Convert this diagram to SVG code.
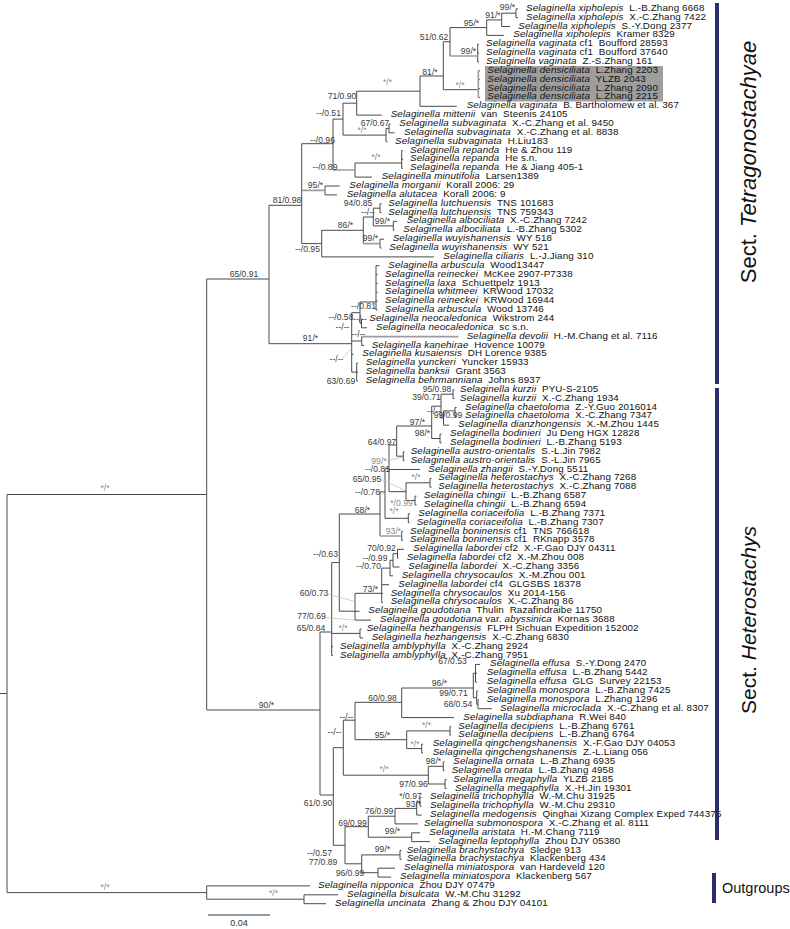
<svg xmlns="http://www.w3.org/2000/svg" width="790" height="929" viewBox="0 0 790 929">
<style>
.t{font-family:"Liberation Sans",Arial,sans-serif;font-size:9.8px;letter-spacing:0.15px;fill:#111}
.i{font-style:italic}
.s{font-family:"Liberation Sans",Arial,sans-serif;font-size:8.6px;fill:#3a3a3a;text-anchor:middle}
.g{fill:#8a8a8a}
.br{fill:none;stroke:#4a4a4a;stroke-width:1}
.bg{fill:none;stroke:#9d9d9d;stroke-width:1.6}
.ld{fill:none;stroke:#bbb;stroke-width:0.7}
.bar{fill:#2b2c6b}
.sec{font-family:"Liberation Sans",Arial,sans-serif;fill:#111}
</style>
<rect width="790" height="929" fill="#fff"/>
<rect x="485" y="66" width="178" height="35.5" fill="#9e9e9e"/>
<g id="connectors">
<path class="br" d="M0 693.5H7 M7 494.5V892.6 M7 494.5H206.7 M7 892.6H206.7
M206.7 279V710 M206.7 279H269 M206.7 710H320
M269 205.3V343.7 M269 205.3H301.7 M269 343.7H351.7
M301.7 143.7V243.6 M301.7 143.7H333 M301.7 243.6H321.7
M333 119.1V170 M333 119.1H343
M343 103.2V135.1 M343 103.2H356.7 M343 135.1H386
M356.7 91.2V115.1 M356.7 91.2H420 M356.7 115.1H381.7
M420 76V106.3 M420 76H443.3 M420 106.3H456.7
M443.3 41.7V89.7 M443.3 41.7H450 M443.3 89.7H478.3
M450 27.6V56 M450 27.6H486.7
M486.7 19.9V35.4 M486.7 19.9H501.7 M486.7 35.4H504
M501.7 13.2V26.5 M501.7 13.2H516 M501.7 26.5H510
M516 8.8V17.7 M516 8.8H518 M516 17.7H518
M477.7 44.2V62 M477.7 44.2H479 M477.7 53.1H479 M477.7 62H479
M478.3 70.8H480 M478.3 79.7H480 M478.3 88.5H480 M478.3 97.4H480
M386 128.4V141.7 M386 128.4H389 M386 141.7H387.5
M389 124V132.8 M389 124H390.5 M389 132.8H394.5
M355 163V177.1 M355 163H401.7 M355 177.1H372
M401.7 150.6V168.3 M401.7 150.6H403 M401.7 159.4H403 M401.7 168.3H403
M325 186V194.9 M325 186H339.5 M325 194.9H337
M321.7 230.3V256.9 M321.7 230.3H363.3 M321.7 256.9H434
M363.3 217V243.6 M363.3 217H373.3
M373.3 208.2V225.9 M373.3 208.2H380 M373.3 225.9H393.3
M380 203.7V212.6 M380 203.7H381.5 M380 212.6H381.5
M393.3 221.4V230.3 M393.3 221.4H397 M393.3 230.3H394.5
M380 239.2V248 M380 239.2H384 M380 248H381.5
M351.7 312.7V372.1 M351.7 312.7H360 M351.7 341H361.7 M351.7 354.3H353.5 M351.7 372.1H356.7
M360 302V323.3 M360 302H376 M360 323.3H361.5
M376 265.7V310 M376 265.7H379.5 M376 274.6H377.5 M376 283.5H377.5 M376 292.3H377.5 M376 301.2H377.5 M376 310H377.5
M361.5 318.9V327.8 M361.5 318.9H362.5 M361.5 327.8H367
M361.7 336.6V345.5 M361.7 345.5H364
M356.7 363.2V380.9 M356.7 363.2H358 M356.7 372.1H358 M356.7 380.9H358
M320 632V795 M320 632H331.7 M320 795H333.3
M331.7 562.6V655.6 M331.7 562.6H339.3 M331.7 633.4H360 M331.7 646.7H333 M331.7 655.6H333
M360 629V637.9 M360 629H361.5 M360 637.9H363
M339.3 514V611.2 M339.3 514H380 M339.3 611.2H355
M380 491.9V536 M380 491.9H385
M385 468.4V518.3 M385 468.4H389 M385 518.3H408.3
M389 445V491.7 M389 445H396.7 M389 469.5H420 M389 491.7H406
M396.7 426V456.2 M396.7 426H431.7 M396.7 456.2H403.3
M431.7 406.2V438.5 M431.7 406.2H441 M431.7 438.5H440
M441 394.2V418.1 M441 394.2H453 M441 418.1H443.5
M453 389.8V398.6 M453 389.8H454.5 M453 398.6H454.5
M443.5 410.9V425.2 M443.5 410.9H455 M443.5 425.2H449
M455 407.5V416.4 M455 407.5H456.5 M455 416.4H456.5
M440 434.1V442.9 M440 434.1H441.5 M440 442.9H441.5
M403.3 451.8V460.7 M403.3 451.8H404.5 M403.3 460.7H404.5
M406 482.8V500.5 M406 482.8H430 M406 500.5H415
M430 478.4V487.2 M430 478.4H431.5 M430 487.2H431.5
M415 496.1V505 M415 496.1H416.5 M415 505H416.5
M408.3 513.8V522.7 M408.3 513.8H410 M408.3 522.7H409.5
M401.7 531.5V540.4 M401.7 531.5H403 M401.7 540.4H403
M355 593.3V620.1 M355 593.3H381.7 M355 611.3H359.5 M355 620.1H371
M381.7 568.1V602.4 M381.7 568.1H390 M381.7 584.7H389 M381.7 593.6H383 M381.7 602.4H383
M390 560.3V575.8 M390 560.3H393 M390 575.8H393
M393 553.7V567 M393 553.7H397.5 M393 567H399.5
M397.5 549.3V558.1 M397.5 549.3H404 M397.5 558.1H398.5
M333.3 747.7V845.3 M333.3 747.7H343.3 M333.3 845.3H345
M343.3 720.2V775.2 M343.3 720.2H355 M343.3 775.2H428.3
M355 702.3V739.7 M355 702.3H401.7 M355 739.7H406.7
M401.7 688V717.6 M401.7 688H473.3 M401.7 717.6H454
M473.3 673.3V697.7 M473.3 673.3H475.5 M473.3 697.7H476.7
M475.5 664.4V682.2 M475.5 664.4H480 M475.5 673.3H477 M475.5 682.2H477
M476.7 691V704.3 M476.7 691H478 M476.7 704.3H478
M478 699.9V708.7 M478 699.9H479 M478 708.7H492
M406.7 730.9V748.6 M406.7 730.9H450 M406.7 748.6H421.7
M450 726.5V735.3 M450 726.5H451 M450 735.3H451
M421.7 744.2V753 M421.7 744.2H423 M421.7 753H423
M428.3 766.3V784 M428.3 766.3H443.3 M428.3 784H445
M443.3 761.9V770.8 M443.3 761.9H444.5 M443.3 770.8H444.5
M445 779.6V788.5 M445 779.6H446.5 M445 788.5H446.5
M345 826.7V863.8 M345 826.7H368.3 M345 863.8H361.7
M368.3 816.2V837.2 M368.3 816.2H395 M368.3 837.2H411.7
M395 808.4V823.9 M395 808.4H416.7 M395 823.9H418
M416.7 801.8V815.1 M416.7 801.8H420 M416.7 815.1H421.7
M420 797.3V806.2 M420 797.3H421.5 M420 806.2H421.5
M411.7 832.8V841.6 M411.7 832.8H420 M411.7 841.6H430
M361.7 854.9V872.7 M361.7 854.9H400 M361.7 872.7H378
M400 850.5V859.4 M400 850.5H401.5 M400 859.4H401.5
M378 868.2V877.1 M378 868.2H395 M378 877.1H391
M206.7 885.9V899.2 M206.7 885.9H310 M206.7 899.2H304
M304 894.8V903.7 M304 894.8H338 M304 903.7H326"/>
<path class="bg" d="M301.7 190.4H325 M333 170H355 M450 56H477.7 M478.3 70.8V97.4 M363.3 243.6H380 M361.7 336.6H458.3 M380 536H401.7"/>
<path class="ld" d="M343 358L351.7 348 M387 461L402.5 457 M382.5 480L405 490.5 M328.5 594L354.5 601.5 M324 617.5L354 620"/>
</g>
<g id="support">
<text class="s" x="507.5" y="10">99/*</text>
<text class="s" x="493" y="18">91/*</text>
<text class="s" x="471.5" y="26">95/*</text>
<text class="s" x="434" y="39.5">51/0.62</text>
<text class="s" x="468.5" y="54">99/*</text>
<text class="s" x="430" y="74.5">81/*</text>
<text class="s g" x="460" y="87.5">*/*</text>
<text class="s g" x="387.5" y="84.5">*/*</text>
<text class="s" x="342" y="99.3">71/0.90</text>
<text class="s" x="328.5" y="116">--/0.51</text>
<text class="s" x="375" y="126">67/0.67</text>
<text class="s g" x="362" y="132.7">*/*</text>
<text class="s" x="322.5" y="142.7">--/0.96</text>
<text class="s g" x="376" y="160">*/*</text>
<text class="s" x="325" y="170">--/0.89</text>
<text class="s" x="315.5" y="187.5">95/*</text>
<text class="s" x="287" y="203">81/0.98</text>
<text class="s" x="358" y="205.7">94/0.85</text>
<text class="s" x="368" y="214.5">--/--</text>
<text class="s" x="382.5" y="224">99/*</text>
<text class="s" x="345.5" y="228">86/*</text>
<text class="s" x="370.5" y="241">99/*</text>
<text class="s" x="307.5" y="252">--/0.95</text>
<text class="s" x="244" y="277">65/0.91</text>
<text class="s" x="363.5" y="308.7">--/0.81</text>
<text class="s" x="341" y="320">--/0.58</text>
<text class="s" x="360" y="321.7">--/--</text>
<text class="s" x="342.5" y="330">--/--</text>
<text class="s" x="358.5" y="336.7">--/--</text>
<text class="s" x="310.5" y="341">91/*</text>
<text class="s" x="336.5" y="361.7">--/--</text>
<text class="s" x="341" y="384">63/0.69</text>
<text class="s" x="437" y="392.3">95/0.98</text>
<text class="s" x="426.5" y="400.3">39/0.71</text>
<text class="s" x="434" y="413.7">--/--</text>
<text class="s" x="448" y="418">99/0.99</text>
<text class="s" x="417.5" y="424.7">97/*</text>
<text class="s" x="422.5" y="435.7">98/*</text>
<text class="s" x="382" y="444.7">64/0.97</text>
<text class="s g" x="379" y="463.7">99/*</text>
<text class="s" x="377.5" y="472">--/0.81</text>
<text class="s" x="367" y="481.7">65/0.95</text>
<text class="s g" x="416" y="480.3">*/*</text>
<text class="s" x="367.5" y="495">--/0.78</text>
<text class="s g" x="401.5" y="506">*/0.99</text>
<text class="s" x="362.5" y="512.7">68/*</text>
<text class="s g" x="394" y="514.3">*/*</text>
<text class="s g" x="393.5" y="533.7">93/*</text>
<text class="s" x="381.5" y="550.7">70/0.92</text>
<text class="s" x="325.5" y="557.3">--/0.63</text>
<text class="s" x="375" y="560.7">--/0.99</text>
<text class="s" x="368.5" y="569">--/0.70</text>
<text class="s" x="370.5" y="592.3">73/*</text>
<text class="s" x="314" y="595.7">60/0.73</text>
<text class="s" x="311.5" y="619">77/0.69</text>
<text class="s" x="311" y="630.7">65/0.84</text>
<text class="s g" x="343" y="631">*/*</text>
<text class="s" x="452.5" y="663.7">67/0.53</text>
<text class="s" x="439.5" y="686">96/*</text>
<text class="s" x="453.5" y="696">99/0.71</text>
<text class="s" x="382.5" y="701">60/0.98</text>
<text class="s" x="458" y="706.7">68/0.54</text>
<text class="s" x="266.5" y="708">90/*</text>
<text class="s" x="346.5" y="720">--/--</text>
<text class="s g" x="426.5" y="728.3">*/*</text>
<text class="s" x="334.5" y="735">--/--</text>
<text class="s" x="382.5" y="738.3">95/*</text>
<text class="s g" x="415" y="746.7">*/*</text>
<text class="s" x="433.5" y="764.3">98/*</text>
<text class="s g" x="384" y="771.7">*/*</text>
<text class="s" x="413.5" y="787">97/0.96</text>
<text class="s" x="410.5" y="799">*/0.97</text>
<text class="s" x="318" y="805.7">61/0.90</text>
<text class="s" x="413.5" y="807">93/*</text>
<text class="s" x="379" y="813.7">76/0.99</text>
<text class="s" x="352.5" y="825.7">69/0.99</text>
<text class="s" x="392.5" y="833.7">99/*</text>
<text class="s" x="382.5" y="852.3">99/*</text>
<text class="s" x="319.5" y="856.3">--/0.57</text>
<text class="s" x="323" y="865">77/0.89</text>
<text class="s" x="350" y="876">96/0.99</text>
<text class="s g" x="105" y="491">*/*</text>
<text class="s g" x="105" y="890">*/*</text>
<text class="s g" x="273.5" y="896">*/*</text>
</g>
<g id="leaf1"><text class="t" x="526" y="10.8"><tspan class="i">Selaginella xipholepis</tspan>&#160; L.-B.Zhang 6668</text></g>
<g id="leaf2"><text class="t" x="526" y="19.7"><tspan class="i">Selaginella xipholepis</tspan>&#160; X.-C.Zhang 7422</text></g>
<g id="leaf3"><text class="t" x="518.3" y="28.5"><tspan class="i">Selaginella xipholepis</tspan>&#160; S.-Y.Dong 2377</text></g>
<g id="leaf4"><text class="t" x="513.3" y="37.4"><tspan class="i">Selaginella xipholepis</tspan>&#160; Kramer 8329</text></g>
<g id="leaf5"><text class="t" x="486" y="46.2"><tspan class="i">Selaginella vaginata</tspan> cf1&#160; Boufford 28593</text></g>
<g id="leaf6"><text class="t" x="486" y="55.1"><tspan class="i">Selaginella vaginata</tspan> cf1&#160; Boufford 37640</text></g>
<g id="leaf7"><text class="t" x="486" y="64"><tspan class="i">Selaginella vaginata</tspan>&#160; Z.-S.Zhang 161</text></g>
<g id="leaf8"><text class="t" x="487.3" y="72.8"><tspan class="i">Selaginella densiciliata</tspan>&#160; L.Zhang 2203</text></g>
<g id="leaf9"><text class="t" x="487.3" y="81.7"><tspan class="i">Selaginella densiciliata</tspan>&#160; YLZB 2043</text></g>
<g id="leaf10"><text class="t" x="487.3" y="90.5"><tspan class="i">Selaginella densiciliata</tspan>&#160; L.Zhang 2090</text></g>
<g id="leaf11"><text class="t" x="487.3" y="99.4"><tspan class="i">Selaginella densiciliata</tspan>&#160; L.Zhang 2215</text></g>
<g id="leaf12"><text class="t" x="466.7" y="108.3"><tspan class="i">Selaginella vaginata</tspan>&#160; B. Bartholomew et al. 367</text></g>
<g id="leaf13"><text class="t" x="390.7" y="117.1"><tspan class="i">Selaginella mittenii</tspan>&#160; van&#160; Steenis 24105</text></g>
<g id="leaf14"><text class="t" x="399.3" y="126"><tspan class="i">Selaginella subvaginata</tspan>&#160; X.-C.Zhang et al. 9450</text></g>
<g id="leaf15"><text class="t" x="404" y="134.8"><tspan class="i">Selaginella subvaginata</tspan>&#160; X.-C.Zhang et al. 8838</text></g>
<g id="leaf16"><text class="t" x="395" y="143.7"><tspan class="i">Selaginella subvaginata</tspan>&#160; H.Liu183</text></g>
<g id="leaf17"><text class="t" x="410" y="152.6"><tspan class="i">Selaginella repanda</tspan>&#160; He &amp; Zhou 119</text></g>
<g id="leaf18"><text class="t" x="410" y="161.4"><tspan class="i">Selaginella repanda</tspan>&#160; He s.n.</text></g>
<g id="leaf19"><text class="t" x="410" y="170.3"><tspan class="i">Selaginella repanda</tspan>&#160; He &amp; Jiang 405-1</text></g>
<g id="leaf20"><text class="t" x="381.7" y="179.1"><tspan class="i">Selaginella minutifolia</tspan>&#160; Larsen1389</text></g>
<g id="leaf21"><text class="t" x="349.3" y="188"><tspan class="i">Selaginella morganii</tspan>&#160; Korall 2006: 29</text></g>
<g id="leaf22"><text class="t" x="346.7" y="196.9"><tspan class="i">Selaginella alutacea</tspan>&#160; Korall 2006: 9</text></g>
<g id="leaf23"><text class="t" x="388.3" y="205.7"><tspan class="i">Selaginella lutchuensis</tspan>&#160; TNS 101683</text></g>
<g id="leaf24"><text class="t" x="388.3" y="214.6"><tspan class="i">Selaginella lutchuensis</tspan>&#160; TNS 759343</text></g>
<g id="leaf25"><text class="t" x="406.7" y="223.4"><tspan class="i">Selaginella albociliata</tspan>&#160; X.-C.Zhang 7242</text></g>
<g id="leaf26"><text class="t" x="403.3" y="232.3"><tspan class="i">Selaginella albociliata</tspan>&#160; L.-B.Zhang 5302</text></g>
<g id="leaf27"><text class="t" x="392.7" y="241.2"><tspan class="i">Selaginella wuyishanensis</tspan>&#160; WY 518</text></g>
<g id="leaf28"><text class="t" x="389.3" y="250"><tspan class="i">Selaginella wuyishanensis</tspan>&#160; WY 521</text></g>
<g id="leaf29"><text class="t" x="443.3" y="258.9"><tspan class="i">Selaginella ciliaris</tspan>&#160; L.-J.Jiang 310</text></g>
<g id="leaf30"><text class="t" x="388.3" y="267.7"><tspan class="i">Selaginella arbuscula</tspan>&#160; Wood13447</text></g>
<g id="leaf31"><text class="t" x="385" y="276.6"><tspan class="i">Selaginella reineckei</tspan>&#160; McKee 2907-P7338</text></g>
<g id="leaf32"><text class="t" x="385" y="285.5"><tspan class="i">Selaginella laxa</tspan>&#160; Schuettpelz 1913</text></g>
<g id="leaf33"><text class="t" x="385" y="294.3"><tspan class="i">Selaginella whitmeei</tspan>&#160; KRWood 17032</text></g>
<g id="leaf34"><text class="t" x="385" y="303.2"><tspan class="i">Selaginella reineckei</tspan>&#160; KRWood 16944</text></g>
<g id="leaf35"><text class="t" x="385" y="312"><tspan class="i">Selaginella arbuscula</tspan>&#160; Wood 13746</text></g>
<g id="leaf36"><text class="t" x="369.3" y="320.9"><tspan class="i">Selaginella neocaledonica</tspan>&#160; Wikstrom 244</text></g>
<g id="leaf37"><text class="t" x="376" y="329.8"><tspan class="i">Selaginella neocaledonica</tspan>&#160; sc s.n.</text></g>
<g id="leaf38"><text class="t" x="466.7" y="338.6"><tspan class="i">Selaginella devolii</tspan>&#160; H.-M.Chang et al. 7116</text></g>
<g id="leaf39"><text class="t" x="371.7" y="347.5"><tspan class="i">Selaginella kanehirae</tspan>&#160; Hovence 10079</text></g>
<g id="leaf40"><text class="t" x="362.3" y="356.3"><tspan class="i">Selaginella kusaiensis</tspan>&#160; DH Lorence 9385</text></g>
<g id="leaf41"><text class="t" x="365.7" y="365.2"><tspan class="i">Selaginella yunckeri</tspan>&#160; Yuncker 15933</text></g>
<g id="leaf42"><text class="t" x="365.7" y="374.1"><tspan class="i">Selaginella banksii</tspan>&#160; Grant 3563</text></g>
<g id="leaf43"><text class="t" x="365.7" y="382.9"><tspan class="i">Selaginella behrmanniana</tspan>&#160; Johns 8937</text></g>
<g id="leaf44"><text class="t" x="460" y="391.8"><tspan class="i">Selaginella kurzii</tspan>&#160; PYU-S-2105</text></g>
<g id="leaf45"><text class="t" x="460" y="400.6"><tspan class="i">Selaginella kurzii</tspan>&#160; X.-C.Zhang 1934</text></g>
<g id="leaf46"><text class="t" x="465" y="409.5"><tspan class="i">Selaginella chaetoloma</tspan>&#160; Z.-Y.Guo 2016014</text></g>
<g id="leaf47"><text class="t" x="465" y="418.4"><tspan class="i">Selaginella chaetoloma</tspan>&#160; X.-C.Zhang 7347</text></g>
<g id="leaf48"><text class="t" x="458.3" y="427.2"><tspan class="i">Selaginella dianzhongensis</tspan>&#160; X.-M.Zhou 1445</text></g>
<g id="leaf49"><text class="t" x="450" y="436.1"><tspan class="i">Selaginella bodinieri</tspan>&#160; Ju Deng HGX 12828</text></g>
<g id="leaf50"><text class="t" x="450" y="444.9"><tspan class="i">Selaginella bodinieri</tspan>&#160; L.-B.Zhang 5193</text></g>
<g id="leaf51"><text class="t" x="410.7" y="453.8"><tspan class="i">Selaginella austro-orientalis</tspan>&#160; S.-L.Jin 7982</text></g>
<g id="leaf52"><text class="t" x="410.7" y="462.7"><tspan class="i">Selaginella austro-orientalis</tspan>&#160; S.-L.Jin 7965</text></g>
<g id="leaf53"><text class="t" x="428.3" y="471.5"><tspan class="i">Selaginella zhangii</tspan>&#160; S.-Y.Dong 5511</text></g>
<g id="leaf54"><text class="t" x="438.3" y="480.4"><tspan class="i">Selaginella heterostachys</tspan>&#160; X.-C.Zhang 7268</text></g>
<g id="leaf55"><text class="t" x="438.3" y="489.2"><tspan class="i">Selaginella heterostachys</tspan>&#160; X.-C.Zhang 7088</text></g>
<g id="leaf56"><text class="t" x="424" y="498.1"><tspan class="i">Selaginella chingii</tspan>&#160; L.-B.Zhang 6587</text></g>
<g id="leaf57"><text class="t" x="424" y="507"><tspan class="i">Selaginella chingii</tspan>&#160; L.-B.Zhang 6594</text></g>
<g id="leaf58"><text class="t" x="418.3" y="515.8"><tspan class="i">Selaginella coriaceifolia</tspan>&#160; L.-B.Zhang 7371</text></g>
<g id="leaf59"><text class="t" x="416.7" y="524.7"><tspan class="i">Selaginella coriaceifolia</tspan>&#160; L.-B.Zhang 7307</text></g>
<g id="leaf60"><text class="t" x="410" y="533.5"><tspan class="i">Selaginella boninensis</tspan> cf1&#160; TNS 766618</text></g>
<g id="leaf61"><text class="t" x="410" y="542.4"><tspan class="i">Selaginella boninensis</tspan> cf1&#160; RKnapp 3578</text></g>
<g id="leaf62"><text class="t" x="413.3" y="551.3"><tspan class="i">Selaginella labordei</tspan> cf2&#160; X.-F.Gao DJY 04311</text></g>
<g id="leaf63"><text class="t" x="406.7" y="560.1"><tspan class="i">Selaginella labordei</tspan> cf2&#160; X.-M.Zhou 008</text></g>
<g id="leaf64"><text class="t" x="408.3" y="569"><tspan class="i">Selaginella labordei</tspan>&#160; X.-C.Zhang 3356</text></g>
<g id="leaf65"><text class="t" x="401.7" y="577.8"><tspan class="i">Selaginella chrysocaulos</tspan>&#160; X.-M.Zhou 001</text></g>
<g id="leaf66"><text class="t" x="398.3" y="586.7"><tspan class="i">Selaginella labordei</tspan> cf4&#160; GLGSBS 18378</text></g>
<g id="leaf67"><text class="t" x="390.7" y="595.6"><tspan class="i">Selaginella chrysocaulos</tspan>&#160; Xu 2014-156</text></g>
<g id="leaf68"><text class="t" x="390.7" y="604.4"><tspan class="i">Selaginella chrysocaulos</tspan>&#160; X.-C.Zhang 86</text></g>
<g id="leaf69"><text class="t" x="368.3" y="613.3"><tspan class="i">Selaginella goudotiana</tspan>&#160; Thulin&#160; Razafindraibe 11750</text></g>
<g id="leaf70"><text class="t" x="380" y="622.1"><tspan class="i">Selaginella goudotiana</tspan> var. <tspan class="i">abyssinica</tspan>&#160; Kornas 3688</text></g>
<g id="leaf71"><text class="t" x="366.7" y="631"><tspan class="i">Selaginella hezhangensis</tspan>&#160; FLPH Sichuan Expedition 152002</text></g>
<g id="leaf72"><text class="t" x="371.7" y="639.9"><tspan class="i">Selaginella hezhangensis</tspan>&#160; X.-C.Zhang 6830</text></g>
<g id="leaf73"><text class="t" x="340" y="648.7"><tspan class="i">Selaginella amblyphylla</tspan>&#160; X.-C.Zhang 2924</text></g>
<g id="leaf74"><text class="t" x="340" y="657.6"><tspan class="i">Selaginella amblyphylla</tspan>&#160; X.-C.Zhang 7951</text></g>
<g id="leaf75"><text class="t" x="490" y="666.4"><tspan class="i">Selaginella effusa</tspan>&#160; S.-Y.Dong 2470</text></g>
<g id="leaf76"><text class="t" x="486.7" y="675.3"><tspan class="i">Selaginella effusa</tspan>&#160; L.-B.Zhang 5442</text></g>
<g id="leaf77"><text class="t" x="486.7" y="684.2"><tspan class="i">Selaginella effusa</tspan>&#160; GLG&#160; Survey 22153</text></g>
<g id="leaf78"><text class="t" x="486.7" y="693"><tspan class="i">Selaginella monospora</tspan>&#160; L.-B.Zhang 7425</text></g>
<g id="leaf79"><text class="t" x="486.7" y="701.9"><tspan class="i">Selaginella monospora</tspan>&#160; L.Zhang 1296</text></g>
<g id="leaf80"><text class="t" x="500" y="710.7"><tspan class="i">Selaginella microclada</tspan>&#160; X.-C.Zhang et al. 8307</text></g>
<g id="leaf81"><text class="t" x="463.3" y="719.6"><tspan class="i">Selaginella subdiaphana</tspan>&#160; R.Wei 840</text></g>
<g id="leaf82"><text class="t" x="458.3" y="728.5"><tspan class="i">Selaginella decipiens</tspan>&#160; L.-B.Zhang 6761</text></g>
<g id="leaf83"><text class="t" x="458.3" y="737.3"><tspan class="i">Selaginella decipiens</tspan>&#160; L.-B.Zhang 6764</text></g>
<g id="leaf84"><text class="t" x="432.7" y="746.2"><tspan class="i">Selaginella qingchengshanensis</tspan>&#160; X.-F.Gao DJY 04053</text></g>
<g id="leaf85"><text class="t" x="432.7" y="755"><tspan class="i">Selaginella qingchengshanensis</tspan>&#160; Z.-L.Liang 056</text></g>
<g id="leaf86"><text class="t" x="453.3" y="763.9"><tspan class="i">Selaginella ornata</tspan>&#160; L.-B.Zhang 6935</text></g>
<g id="leaf87"><text class="t" x="451.7" y="772.8"><tspan class="i">Selaginella ornata</tspan>&#160; L.-B.Zhang 4958</text></g>
<g id="leaf88"><text class="t" x="453.3" y="781.6"><tspan class="i">Selaginella megaphylla</tspan>&#160; YLZB 2185</text></g>
<g id="leaf89"><text class="t" x="455" y="790.5"><tspan class="i">Selaginella megaphylla</tspan>&#160; X.-H.Jin 19301</text></g>
<g id="leaf90"><text class="t" x="430" y="799.3"><tspan class="i">Selaginella trichophylla</tspan>&#160; W.-M.Chu 31925</text></g>
<g id="leaf91"><text class="t" x="430" y="808.2"><tspan class="i">Selaginella trichophylla</tspan>&#160; W.-M.Chu 29310</text></g>
<g id="leaf92"><text class="t" x="430" y="817.1"><tspan class="i">Selaginella medogensis</tspan>&#160; Qinghai Xizang Complex Exped 744375</text></g>
<g id="leaf93"><text class="t" x="424" y="825.9"><tspan class="i">Selaginella submonospora</tspan>&#160; X.-C.Zhang et al. 8111</text></g>
<g id="leaf94"><text class="t" x="429.3" y="834.8"><tspan class="i">Selaginella aristata</tspan>&#160; H.-M.Chang 7119</text></g>
<g id="leaf95"><text class="t" x="438.3" y="843.6"><tspan class="i">Selaginella leptophylla</tspan>&#160; Zhou DJY 05380</text></g>
<g id="leaf96"><text class="t" x="406.7" y="852.5"><tspan class="i">Selaginella brachystachya</tspan>&#160; Sledge 913</text></g>
<g id="leaf97"><text class="t" x="406.7" y="861.4"><tspan class="i">Selaginella brachystachya</tspan>&#160; Klackenberg 434</text></g>
<g id="leaf98"><text class="t" x="404" y="870.2"><tspan class="i">Selaginella miniatospora</tspan>&#160; van Hardeveld 120</text></g>
<g id="leaf99"><text class="t" x="400" y="879.1"><tspan class="i">Selaginella miniatospora</tspan>&#160; Klackenberg 567</text></g>
<g id="leaf100"><text class="t" x="318" y="887.9"><tspan class="i">Selaginella nipponica</tspan>&#160; Zhou DJY 07479</text></g>
<g id="leaf101"><text class="t" x="347" y="896.8"><tspan class="i">Selaginella bisulcata</tspan>&#160; W.-M.Chu 31292</text></g>
<g id="leaf102"><text class="t" x="335" y="905.7"><tspan class="i">Selaginella uncinata</tspan>&#160; Zhang &amp; Zhou DJY 04101</text></g>
<g id="sect-tetragonostachyae"><rect class="bar" x="715" y="3" width="4" height="381"/><text class="sec" font-size="22" transform="translate(756,162) rotate(-90)" text-anchor="middle">Sect. <tspan class="i">Tetragonostachyae</tspan></text></g>
<g id="sect-heterostachys"><rect class="bar" x="715" y="388" width="4" height="452"/><text class="sec" font-size="21" transform="translate(756,620) rotate(-90)" text-anchor="middle">Sect. <tspan class="i">Heterostachys</tspan></text></g>
<g id="outgroups"><rect class="bar" x="712" y="873" width="4" height="30"/><text x="722" y="893" font-family="Liberation Sans, Arial, sans-serif" font-size="14.5" fill="#111">Outgroups</text></g>
<g id="scale"><path d="M208 915H270" stroke="#333" stroke-width="1"/><text x="239" y="925.5" font-family="Liberation Sans, Arial, sans-serif" font-size="9" fill="#333" text-anchor="middle">0.04</text></g>
</svg>
